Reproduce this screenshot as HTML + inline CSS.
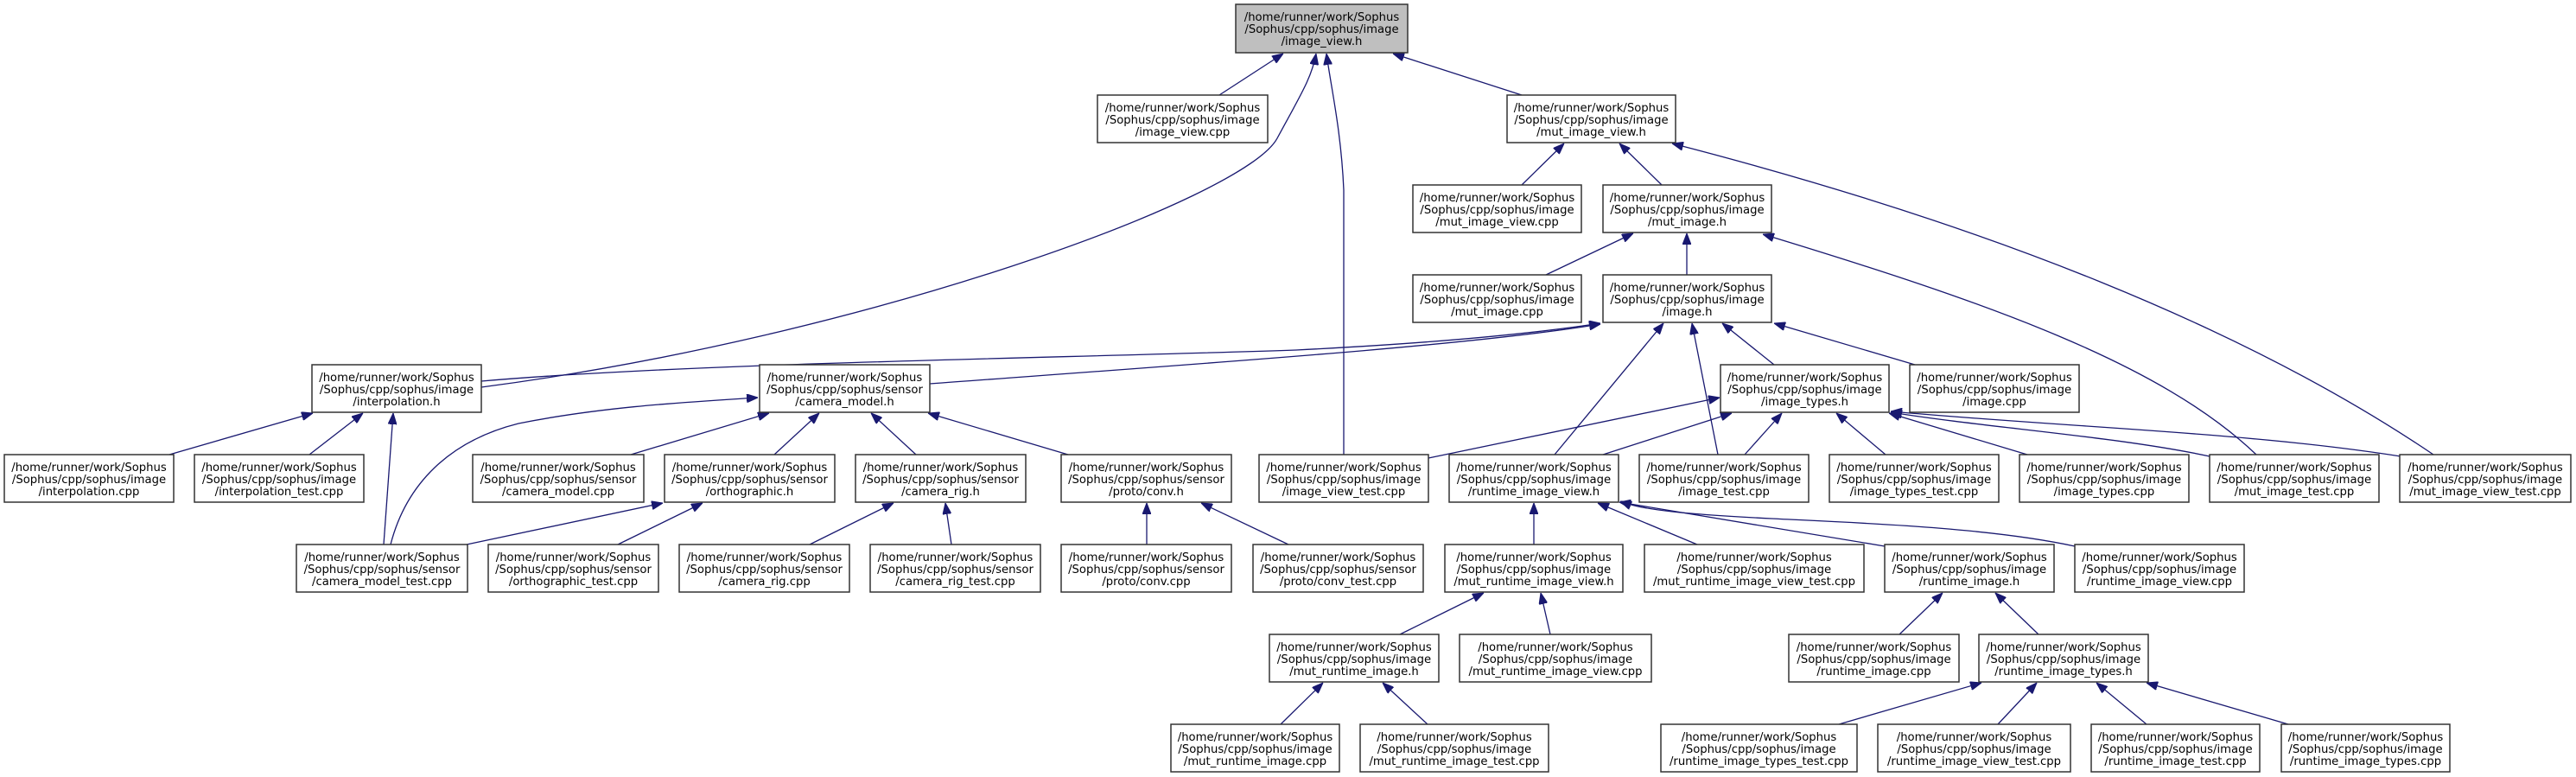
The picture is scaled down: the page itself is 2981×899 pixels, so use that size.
<!DOCTYPE html>
<html><head><meta charset="utf-8"><style>
html,body{margin:0;padding:0;background:#fff;}
svg{display:block;}
text{font-family:"DejaVu Sans","Liberation Sans",sans-serif;font-size:13.2px;fill:#000;text-anchor:middle;}
rect{fill:#fff;stroke:#333;stroke-width:1.5;}
path.e{fill:none;stroke:#191970;stroke-width:1.3;marker-end:url(#a);}
</style></head><body>
<svg width="2981" height="899" viewBox="0 0 2981 899" xmlns="http://www.w3.org/2000/svg">
<defs><marker id="a" markerUnits="userSpaceOnUse" markerWidth="13" markerHeight="10" viewBox="0 0 13 10" refX="13" refY="5" orient="auto"><path d="M0,0 L13,5 L0,10 z" fill="#191970" stroke="#191970"/></marker></defs>

<!-- edges -->
<path class="e" d="M1411,110 L1485,62"/>
<path class="e" d="M1761,110 L1612,62"/>
<path class="e" d="M557,448 C1000,390 1440,230 1478,160 C1505,110 1518,90 1523,62"/>
<path class="e" d="M1555,526 L1555,220 C1552,150 1540,100 1535,62"/>
<path class="e" d="M557,441 C800,420 1200,415 1500,405 C1700,395 1800,382 1852,374"/>
<path class="e" d="M1076,444 C1400,420 1700,400 1852,375"/>
<path class="e" d="M1761,214 L1810,166"/>
<path class="e" d="M1923,214 L1874,166"/>
<path class="e" d="M2816,526 C2600,380 2300,260 1935,166"/>
<path class="e" d="M1789,318 L1890,270"/>
<path class="e" d="M1952,318 L1952,270"/>
<path class="e" d="M2611,526 C2500,420 2300,350 2040,271"/>
<path class="e" d="M2053,422 L1993,374"/>
<path class="e" d="M2216,422 L2053,374"/>
<path class="e" d="M1799,526 L1925,374"/>
<path class="e" d="M1988,526 L1958,374"/>
<path class="e" d="M196,526 L362,478"/>
<path class="e" d="M358,526 L420,478"/>
<path class="e" d="M444,630 L455,478"/>
<path class="e" d="M452,630 C470,560 520,510 600,490 C700,470 800,465 877,460"/>
<path class="e" d="M730,526 L890,478"/>
<path class="e" d="M896,526 L948,478"/>
<path class="e" d="M1060,526 L1008,478"/>
<path class="e" d="M1236,526 L1074,478"/>
<path class="e" d="M540,630 L767,582"/>
<path class="e" d="M715,630 L813,582"/>
<path class="e" d="M937,630 L1034,582"/>
<path class="e" d="M1101,630 L1094,582"/>
<path class="e" d="M1327,630 L1327,582"/>
<path class="e" d="M1491,630 L1390,582"/>
<path class="e" d="M1653,530 L1990,460"/>
<path class="e" d="M1855,526 L2004,478"/>
<path class="e" d="M2019,526 L2062,478"/>
<path class="e" d="M2182,526 L2125,478"/>
<path class="e" d="M2346,526 L2186,478"/>
<path class="e" d="M2557,528 C2450,505 2300,495 2188,477"/>
<path class="e" d="M2778,528 C2600,500 2400,495 2188,476"/>
<path class="e" d="M1775,630 L1775,582"/>
<path class="e" d="M1964,630 L1849,582"/>
<path class="e" d="M2181,632 L1874,581"/>
<path class="e" d="M2401,632 C2300,610 2150,605 2050,600 C1950,595 1900,590 1875,580"/>
<path class="e" d="M1620,734 L1717,686"/>
<path class="e" d="M1794,734 L1783,686"/>
<path class="e" d="M1482,838 L1531,790"/>
<path class="e" d="M1652,838 L1600,790"/>
<path class="e" d="M2198,734 L2248,686"/>
<path class="e" d="M2359,734 L2309,686"/>
<path class="e" d="M2128,838 L2293,790"/>
<path class="e" d="M2312,838 L2357,790"/>
<path class="e" d="M2484,838 L2426,790"/>
<path class="e" d="M2648,838 L2484,790"/>

<!-- nodes -->
<g>
<rect x="1430" y="5" width="199" height="56" style="fill:#bfbfbf"/><text x="1529.5" y="24">/home/runner/work/Sophus</text><text x="1529.5" y="38">/Sophus/cpp/sophus/image</text><text x="1529.5" y="52">/image_view.h</text>

<rect x="1270" y="110" width="197" height="55"/><text x="1368.5" y="129">/home/runner/work/Sophus</text><text x="1368.5" y="143">/Sophus/cpp/sophus/image</text><text x="1368.5" y="157">/image_view.cpp</text>
<rect x="1744" y="110" width="195" height="55"/><text x="1841.5" y="129">/home/runner/work/Sophus</text><text x="1841.5" y="143">/Sophus/cpp/sophus/image</text><text x="1841.5" y="157">/mut_image_view.h</text>

<rect x="1635" y="214" width="195" height="55"/><text x="1732.5" y="233">/home/runner/work/Sophus</text><text x="1732.5" y="247">/Sophus/cpp/sophus/image</text><text x="1732.5" y="261">/mut_image_view.cpp</text>
<rect x="1855" y="214" width="195" height="55"/><text x="1952.5" y="233">/home/runner/work/Sophus</text><text x="1952.5" y="247">/Sophus/cpp/sophus/image</text><text x="1952.5" y="261">/mut_image.h</text>

<rect x="1635" y="318" width="195" height="55"/><text x="1732.5" y="337">/home/runner/work/Sophus</text><text x="1732.5" y="351">/Sophus/cpp/sophus/image</text><text x="1732.5" y="365">/mut_image.cpp</text>
<rect x="1855" y="318" width="195" height="55"/><text x="1952.5" y="337">/home/runner/work/Sophus</text><text x="1952.5" y="351">/Sophus/cpp/sophus/image</text><text x="1952.5" y="365">/image.h</text>

<rect x="361" y="422" width="196" height="55"/><text x="459" y="441">/home/runner/work/Sophus</text><text x="459" y="455">/Sophus/cpp/sophus/image</text><text x="459" y="469">/interpolation.h</text>
<rect x="879" y="422" width="197" height="55"/><text x="977.5" y="441">/home/runner/work/Sophus</text><text x="977.5" y="455">/Sophus/cpp/sophus/sensor</text><text x="977.5" y="469">/camera_model.h</text>
<rect x="1991" y="422" width="195" height="55"/><text x="2088.5" y="441">/home/runner/work/Sophus</text><text x="2088.5" y="455">/Sophus/cpp/sophus/image</text><text x="2088.5" y="469">/image_types.h</text>
<rect x="2210" y="422" width="196" height="55"/><text x="2308" y="441">/home/runner/work/Sophus</text><text x="2308" y="455">/Sophus/cpp/sophus/image</text><text x="2308" y="469">/image.cpp</text>

<rect x="5" y="526" width="196" height="55"/><text x="103" y="545">/home/runner/work/Sophus</text><text x="103" y="559">/Sophus/cpp/sophus/image</text><text x="103" y="573">/interpolation.cpp</text>
<rect x="225" y="526" width="196" height="55"/><text x="323" y="545">/home/runner/work/Sophus</text><text x="323" y="559">/Sophus/cpp/sophus/image</text><text x="323" y="573">/interpolation_test.cpp</text>
<rect x="547" y="526" width="198" height="55"/><text x="646" y="545">/home/runner/work/Sophus</text><text x="646" y="559">/Sophus/cpp/sophus/sensor</text><text x="646" y="573">/camera_model.cpp</text>
<rect x="769" y="526" width="197" height="55"/><text x="867.5" y="545">/home/runner/work/Sophus</text><text x="867.5" y="559">/Sophus/cpp/sophus/sensor</text><text x="867.5" y="573">/orthographic.h</text>
<rect x="990" y="526" width="197" height="55"/><text x="1088.5" y="545">/home/runner/work/Sophus</text><text x="1088.5" y="559">/Sophus/cpp/sophus/sensor</text><text x="1088.5" y="573">/camera_rig.h</text>
<rect x="1228" y="526" width="197" height="55"/><text x="1326.5" y="545">/home/runner/work/Sophus</text><text x="1326.5" y="559">/Sophus/cpp/sophus/sensor</text><text x="1326.5" y="573">/proto/conv.h</text>
<rect x="1457" y="526" width="196" height="55"/><text x="1555" y="545">/home/runner/work/Sophus</text><text x="1555" y="559">/Sophus/cpp/sophus/image</text><text x="1555" y="573">/image_view_test.cpp</text>
<rect x="1677" y="526" width="196" height="55"/><text x="1775" y="545">/home/runner/work/Sophus</text><text x="1775" y="559">/Sophus/cpp/sophus/image</text><text x="1775" y="573">/runtime_image_view.h</text>
<rect x="1897" y="526" width="196" height="55"/><text x="1995" y="545">/home/runner/work/Sophus</text><text x="1995" y="559">/Sophus/cpp/sophus/image</text><text x="1995" y="573">/image_test.cpp</text>
<rect x="2117" y="526" width="196" height="55"/><text x="2215" y="545">/home/runner/work/Sophus</text><text x="2215" y="559">/Sophus/cpp/sophus/image</text><text x="2215" y="573">/image_types_test.cpp</text>
<rect x="2337" y="526" width="196" height="55"/><text x="2435" y="545">/home/runner/work/Sophus</text><text x="2435" y="559">/Sophus/cpp/sophus/image</text><text x="2435" y="573">/image_types.cpp</text>
<rect x="2557" y="526" width="196" height="55"/><text x="2655" y="545">/home/runner/work/Sophus</text><text x="2655" y="559">/Sophus/cpp/sophus/image</text><text x="2655" y="573">/mut_image_test.cpp</text>
<rect x="2777" y="526" width="198" height="55"/><text x="2876" y="545">/home/runner/work/Sophus</text><text x="2876" y="559">/Sophus/cpp/sophus/image</text><text x="2876" y="573">/mut_image_view_test.cpp</text>

<rect x="343" y="630" width="198" height="55"/><text x="442" y="649">/home/runner/work/Sophus</text><text x="442" y="663">/Sophus/cpp/sophus/sensor</text><text x="442" y="677">/camera_model_test.cpp</text>
<rect x="565" y="630" width="197" height="55"/><text x="663.5" y="649">/home/runner/work/Sophus</text><text x="663.5" y="663">/Sophus/cpp/sophus/sensor</text><text x="663.5" y="677">/orthographic_test.cpp</text>
<rect x="786" y="630" width="197" height="55"/><text x="884.5" y="649">/home/runner/work/Sophus</text><text x="884.5" y="663">/Sophus/cpp/sophus/sensor</text><text x="884.5" y="677">/camera_rig.cpp</text>
<rect x="1007" y="630" width="197" height="55"/><text x="1105.5" y="649">/home/runner/work/Sophus</text><text x="1105.5" y="663">/Sophus/cpp/sophus/sensor</text><text x="1105.5" y="677">/camera_rig_test.cpp</text>
<rect x="1228" y="630" width="197" height="55"/><text x="1326.5" y="649">/home/runner/work/Sophus</text><text x="1326.5" y="663">/Sophus/cpp/sophus/sensor</text><text x="1326.5" y="677">/proto/conv.cpp</text>
<rect x="1450" y="630" width="197" height="55"/><text x="1548.5" y="649">/home/runner/work/Sophus</text><text x="1548.5" y="663">/Sophus/cpp/sophus/sensor</text><text x="1548.5" y="677">/proto/conv_test.cpp</text>
<rect x="1672" y="630" width="206" height="55"/><text x="1775" y="649">/home/runner/work/Sophus</text><text x="1775" y="663">/Sophus/cpp/sophus/image</text><text x="1775" y="677">/mut_runtime_image_view.h</text>
<rect x="1903" y="630" width="254" height="55"/><text x="2030" y="649">/home/runner/work/Sophus</text><text x="2030" y="663">/Sophus/cpp/sophus/image</text><text x="2030" y="677">/mut_runtime_image_view_test.cpp</text>
<rect x="2181" y="630" width="196" height="55"/><text x="2279" y="649">/home/runner/work/Sophus</text><text x="2279" y="663">/Sophus/cpp/sophus/image</text><text x="2279" y="677">/runtime_image.h</text>
<rect x="2401" y="630" width="196" height="55"/><text x="2499" y="649">/home/runner/work/Sophus</text><text x="2499" y="663">/Sophus/cpp/sophus/image</text><text x="2499" y="677">/runtime_image_view.cpp</text>

<rect x="1469" y="734" width="196" height="55"/><text x="1567" y="753">/home/runner/work/Sophus</text><text x="1567" y="767">/Sophus/cpp/sophus/image</text><text x="1567" y="781">/mut_runtime_image.h</text>
<rect x="1689" y="734" width="222" height="55"/><text x="1800" y="753">/home/runner/work/Sophus</text><text x="1800" y="767">/Sophus/cpp/sophus/image</text><text x="1800" y="781">/mut_runtime_image_view.cpp</text>
<rect x="2070" y="734" width="197" height="55"/><text x="2168.5" y="753">/home/runner/work/Sophus</text><text x="2168.5" y="767">/Sophus/cpp/sophus/image</text><text x="2168.5" y="781">/runtime_image.cpp</text>
<rect x="2290" y="734" width="196" height="55"/><text x="2388" y="753">/home/runner/work/Sophus</text><text x="2388" y="767">/Sophus/cpp/sophus/image</text><text x="2388" y="781">/runtime_image_types.h</text>

<rect x="1355" y="838" width="195" height="55"/><text x="1452.5" y="857">/home/runner/work/Sophus</text><text x="1452.5" y="871">/Sophus/cpp/sophus/image</text><text x="1452.5" y="885">/mut_runtime_image.cpp</text>
<rect x="1574" y="838" width="218" height="55"/><text x="1683" y="857">/home/runner/work/Sophus</text><text x="1683" y="871">/Sophus/cpp/sophus/image</text><text x="1683" y="885">/mut_runtime_image_test.cpp</text>
<rect x="1922" y="838" width="227" height="55"/><text x="2035.5" y="857">/home/runner/work/Sophus</text><text x="2035.5" y="871">/Sophus/cpp/sophus/image</text><text x="2035.5" y="885">/runtime_image_types_test.cpp</text>
<rect x="2173" y="838" width="223" height="55"/><text x="2284.5" y="857">/home/runner/work/Sophus</text><text x="2284.5" y="871">/Sophus/cpp/sophus/image</text><text x="2284.5" y="885">/runtime_image_view_test.cpp</text>
<rect x="2420" y="838" width="195" height="55"/><text x="2517.5" y="857">/home/runner/work/Sophus</text><text x="2517.5" y="871">/Sophus/cpp/sophus/image</text><text x="2517.5" y="885">/runtime_image_test.cpp</text>
<rect x="2640" y="838" width="195" height="55"/><text x="2737.5" y="857">/home/runner/work/Sophus</text><text x="2737.5" y="871">/Sophus/cpp/sophus/image</text><text x="2737.5" y="885">/runtime_image_types.cpp</text>
</g>
</svg>
</body></html>
